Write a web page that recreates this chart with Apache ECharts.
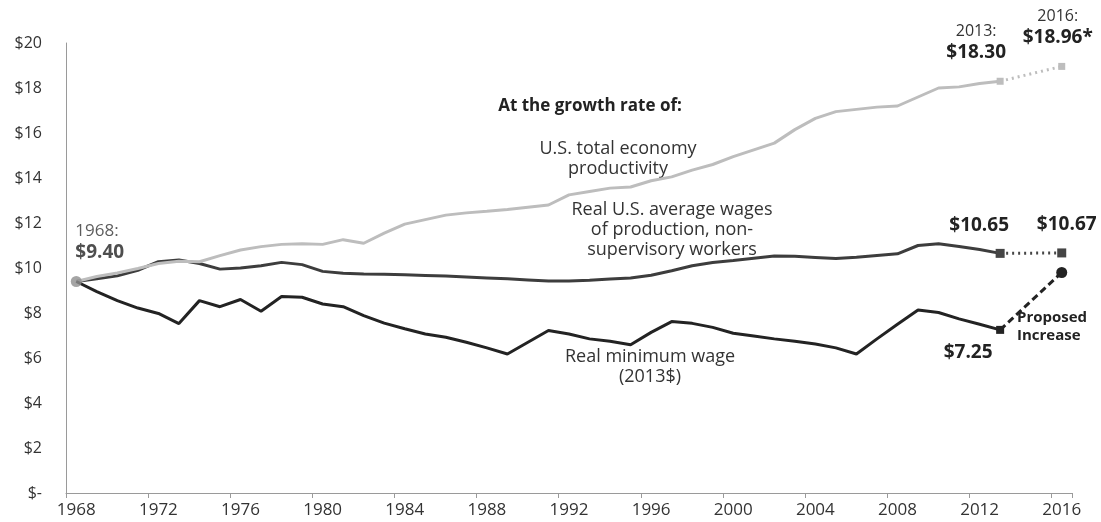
<!DOCTYPE html>
<html>
<head>
<meta charset="utf-8">
<script src="https://cdn.jsdelivr.net/npm/echarts@6/dist/echarts.min.js"></script>
<style>
  html, body { margin: 0; padding: 0; background: #ffffff; }
  #chart { width: 1101px; height: 522px; }
</style>
</head>
<body>
<div id="chart"></div>
<script>
// Years on the category axis, 1968 through 2016
const years = [];
for (let y = 1968; y <= 2016; y++) years.push(String(y));

// 1968 = $9.40 grown at each rate, 1968–2013 (2013 dollars)
const productivity = [
  9.40, 9.62, 9.78, 9.98, 10.20, 10.30, 10.28, 10.55, 10.80, 10.95,
  11.05, 11.08, 11.05, 11.26, 11.10, 11.55, 11.95, 12.15, 12.35, 12.45,
  12.52, 12.60, 12.70, 12.80, 13.25, 13.40, 13.55, 13.60, 13.88, 14.05,
  14.35, 14.60, 14.95, 15.25, 15.55, 16.15, 16.65, 16.95, 17.05, 17.15,
  17.20, 17.60, 18.00, 18.05, 18.20, 18.30
];
const avgWage = [
  9.40, 9.52, 9.65, 9.90, 10.28, 10.36, 10.20, 9.95, 10.00, 10.10,
  10.25, 10.15, 9.85, 9.77, 9.73, 9.72, 9.70, 9.67, 9.64, 9.60,
  9.56, 9.52, 9.47, 9.42, 9.42, 9.46, 9.51, 9.56, 9.68, 9.88,
  10.10, 10.24, 10.33, 10.43, 10.53, 10.52, 10.47, 10.42, 10.48, 10.56,
  10.63, 11.00, 11.08, 10.96, 10.82, 10.65
];
const minWage = [
  9.40, 8.95, 8.55, 8.22, 7.98, 7.53, 8.55, 8.28, 8.60, 8.08,
  8.73, 8.70, 8.40, 8.28, 7.88, 7.55, 7.30, 7.07, 6.92, 6.70,
  6.45, 6.18, 6.70, 7.22, 7.07, 6.85, 6.74, 6.59, 7.14, 7.62,
  7.54, 7.36, 7.10, 6.98, 6.85, 6.74, 6.62, 6.45, 6.18, 6.85,
  7.50, 8.13, 8.02, 7.74, 7.50, 7.25
];

// Projection from 2013 to 2016
const projYears = ['2013', '2016'];
const productivityProj = [18.30, 18.96];
const avgWageProj = [10.65, 10.67];
const minWageProj = [7.25, 9.80];

const FONT = '"Open Sans", "Noto Sans", sans-serif';
const GREY_LINE = '#bdbdbd';
const WAGE_LINE = '#3d3d3d';
const MIN_LINE = '#232323';
const TEXT = '#333333';

const money = v => '$' + v.toFixed(2);
const pairs = (cats, vals) => vals.map((v, i) => [cats[i], v]);

const chart = echarts.init(document.getElementById('chart'), null, { renderer: 'canvas' });

const boldRich = {
  y: { fontFamily: FONT, fontSize: 16, color: TEXT, lineHeight: 21, align: 'center' },
  v: { fontFamily: FONT, fontSize: 19, fontWeight: 'bold', color: '#222', lineHeight: 21, align: 'center' }
};

chart.setOption({
  animation: false,
  backgroundColor: '#ffffff',
  grid: { left: 66, right: 29, top: 43, bottom: 29 },
  xAxis: {
    type: 'category',
    data: years,
    boundaryGap: true,
    axisLine: { lineStyle: { color: '#9a9a9a', width: 1 } },
    axisTick: { show: true, interval: 3, length: 5, lineStyle: { color: '#9a9a9a' } },
    axisLabel: { interval: 3, color: TEXT, fontFamily: FONT, fontSize: 17, margin: 9 },
    splitLine: { show: false }
  },
  yAxis: {
    type: 'value',
    min: 0, max: 20, interval: 2,
    axisLine: { show: true, lineStyle: { color: '#9a9a9a', width: 1 } },
    axisTick: { show: false },
    splitLine: { show: false },
    axisLabel: {
      color: TEXT, fontFamily: FONT, fontSize: 16, margin: 24,
      formatter: v => (v === 0 ? '$-' : '$' + v)
    }
  },
  series: [
    {
      name: 'Real U.S. average wages',
      type: 'line',
      data: pairs(years, avgWage),
      symbol: 'none',
      lineStyle: { color: WAGE_LINE, width: 3 },
      z: 2
    },
    {
      name: 'U.S. total economy productivity',
      type: 'line',
      data: pairs(years, productivity),
      symbol: 'none',
      lineStyle: { color: GREY_LINE, width: 3 },
      z: 3
    },
    {
      name: 'Real minimum wage',
      type: 'line',
      data: pairs(years, minWage),
      symbol: 'none',
      lineStyle: { color: MIN_LINE, width: 3 },
      z: 4
    },
    {
      name: 'Productivity projection',
      type: 'line',
      data: pairs(projYears, productivityProj),
      symbol: 'rect',
      symbolSize: 7,
      itemStyle: { color: GREY_LINE },
      lineStyle: { color: GREY_LINE, width: 3, type: [2, 4] },
      label: {
        show: true,
        position: 'top',
        distance: 15,
        rich: boldRich,
        formatter: p => '{y|' + p.value[0] + ':}\n{v|' + money(p.value[1]) + (p.dataIndex === 1 ? '*' : '') + '}'
      },
      labelLayout: p => ({ dx: p.dataIndex === 0 ? -24 : -4 }),
      z: 5
    },
    {
      name: 'Average wage projection',
      type: 'line',
      data: pairs(projYears, avgWageProj),
      symbol: 'rect',
      symbolSize: 9,
      itemStyle: { color: '#454545' },
      lineStyle: { color: '#454545', width: 3, type: [2, 4] },
      label: {
        show: true,
        position: 'top',
        distance: 14,
        fontFamily: FONT, fontSize: 19, fontWeight: 'bold', color: '#222',
        formatter: p => money(p.value[1])
      },
      labelLayout: p => ({ dx: p.dataIndex === 0 ? -21 : 5 }),
      z: 5
    },
    {
      name: 'Proposed increase',
      type: 'line',
      data: [
        { value: [projYears[0], minWageProj[0]], symbol: 'rect', symbolSize: 8,
          label: { show: true, position: 'bottom', distance: 9, offset: [-32, 0],
                   fontFamily: FONT, fontSize: 19, fontWeight: 'bold', color: '#222',
                   formatter: p => money(p.value[1]) } },
        { value: [projYears[1], minWageProj[1]], symbol: 'circle', symbolSize: 11 }
      ],
      itemStyle: { color: MIN_LINE },
      lineStyle: { color: MIN_LINE, width: 3, type: [7, 4] },
      z: 5
    },
    {
      name: '1968 start',
      type: 'scatter',
      data: [[years[0], productivity[0]]],
      symbol: 'circle',
      symbolSize: 11,
      itemStyle: { color: '#8e8e8e' },
      label: {
        show: true,
        position: 'top',
        distance: 12,
        align: 'left',
        offset: [-1, 0],
        rich: {
          y: { fontFamily: FONT, fontSize: 17, color: TEXT, lineHeight: 22 },
          v: { fontFamily: FONT, fontSize: 19, fontWeight: 'bold', color: '#222', lineHeight: 22 }
        },
        formatter: p => '{y|' + p.value[0] + ':}\n{v|' + money(p.value[1]) + '}'
      },
      z: 10
    }
  ],
  graphic: [
    { type: 'text', x: 590, y: 96,
      style: { text: 'At the growth rate of:', font: 'bold 17px ' + FONT, fill: '#222',
               align: 'center', verticalAlign: 'top', lineHeight: 20 } },
    { type: 'text', x: 618, y: 139,
      style: { text: 'U.S. total economy\nproductivity', font: '18px ' + FONT, fill: TEXT,
               align: 'center', verticalAlign: 'top', lineHeight: 20 } },
    { type: 'text', x: 672, y: 200,
      style: { text: 'Real U.S. average wages\nof production, non-\nsupervisory workers', font: '18px ' + FONT, fill: TEXT,
               align: 'center', verticalAlign: 'top', lineHeight: 20 } },
    { type: 'text', x: 650, y: 347,
      style: { text: 'Real minimum wage\n(2013$)', font: '18px ' + FONT, fill: TEXT,
               align: 'center', verticalAlign: 'top', lineHeight: 20 } },
    { type: 'text', x: 1017, y: 309,
      style: { text: 'Proposed\nIncrease', font: 'bold 15px ' + FONT, fill: '#222',
               align: 'left', verticalAlign: 'top', lineHeight: 18 } }
  ]
});
</script>
</body>
</html>
